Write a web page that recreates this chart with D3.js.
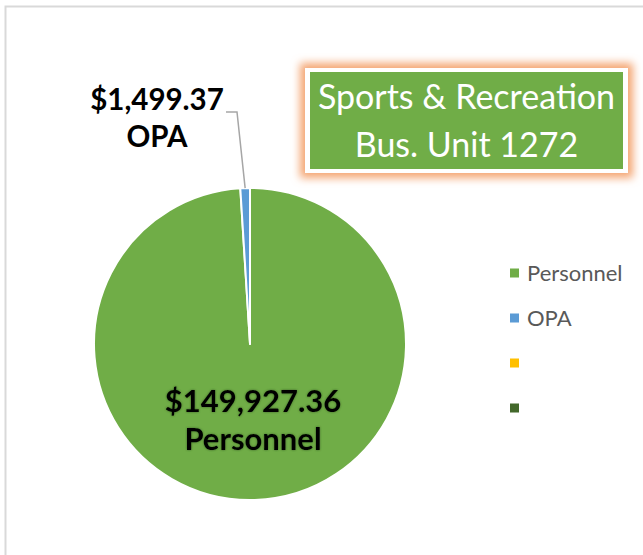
<!DOCTYPE html>
<html>
<head>
<meta charset="utf-8">
<script src="https://cdn.jsdelivr.net/npm/d3@7"></script>
<style>
  body { margin: 0; background: #fff; }
  svg { display: block; font-family: Lato, "Open Sans", sans-serif; }
</style>
</head>
<body>
<div id="chart"></div>
<script>
// Chart data
var categories = ["Personnel", "OPA", "", ""];
var amounts = [149927.36, 1499.37, 0, 0];
var sliceColors = ["#70AD47", "#5B9BD5", "#FFC000", "#43682B"];
var titleLines = ["Sports & Recreation", "Bus. Unit 1272"];

var svgWidth = 643;
var svgHeight = 555;

var svg = d3.select("#chart")
  .append("svg")
  .attr("width", svgWidth)
  .attr("height", svgHeight);

var defs = svg.append("defs");

// orange glow for the title box
var glow = defs.append("filter").attr("id", "glow")
  .attr("x", "-20%").attr("y", "-40%").attr("width", "140%").attr("height", "180%");
glow.append("feMorphology").attr("in", "SourceAlpha").attr("operator", "dilate").attr("radius", 5).attr("result", "fat");
glow.append("feGaussianBlur").attr("in", "fat").attr("stdDeviation", 4).attr("result", "blur");
glow.append("feFlood").attr("flood-color", "#F4A572").attr("flood-opacity", 1);
glow.append("feComposite").attr("in2", "blur").attr("operator", "in").attr("result", "glowColor");
var gm = glow.append("feMerge");
gm.append("feMergeNode").attr("in", "glowColor");
gm.append("feMergeNode").attr("in", "SourceGraphic");

// soft shadow for the inside label
var shade = defs.append("filter").attr("id", "shade");
shade.append("feGaussianBlur").attr("in", "SourceAlpha").attr("stdDeviation", 1.2).attr("result", "b");
shade.append("feFlood").attr("flood-color", "#2F4F1F").attr("flood-opacity", 0.8);
shade.append("feComposite").attr("in2", "b").attr("operator", "in").attr("result", "s");
var sm = shade.append("feMerge");
sm.append("feMergeNode").attr("in", "s");
sm.append("feMergeNode").attr("in", "SourceGraphic");

// chart area border
svg.append("rect")
  .attr("x", 5.5).attr("y", 6.5)
  .attr("width", 700).attr("height", 600)
  .attr("fill", "none")
  .attr("stroke", "#D9D9D9")
  .attr("stroke-width", 2);

// Pie
var cx = 250, cy = 344, radius = 156;
var data = categories.map((c, i) => ({ name: c, value: amounts[i], color: sliceColors[i] }));

var pie = d3.pie().sort(null).value(d => d.value);
var arc = d3.arc().innerRadius(0).outerRadius(radius);
var arcs = pie(data);

var pieGrp = svg.append("g").attr("transform", `translate(${cx}, ${cy})`);

pieGrp.selectAll("path")
  .data(arcs.filter(d => d.value > 0))
  .enter()
  .append("path")
  .attr("d", arc)
  .attr("fill", d => d.data.color)
  .attr("stroke", "#fff")
  .attr("stroke-width", 2)
  .attr("stroke-linejoin", "round");

var fmt = d3.format("$,.2f");

// OPA label with leader line
var opa = arcs[1];
var opaMid = (opa.startAngle + opa.endAngle) / 2;
var tipX = cx + Math.sin(opaMid) * radius;
var tipY = cy - Math.cos(opaMid) * radius;
svg.append("polyline")
  .attr("points", [[tipX, tipY], [237, 112], [226, 112]].join(" "))
  .attr("fill", "none")
  .attr("stroke", "#A6A6A6")
  .attr("stroke-width", 1.5);

var opaLbl = svg.append("text")
  .attr("text-anchor", "middle")
  .attr("font-weight", 700)
  .attr("font-size", "29.5px")
  .attr("fill", "#000");
opaLbl.append("tspan").attr("x", 157).attr("y", 110).text(fmt(opa.data.value));
opaLbl.append("tspan").attr("x", 157).attr("y", 147).text(opa.data.name);

// Personnel label inside the pie
var pers = arcs[0];
var persLbl = svg.append("text")
  .attr("text-anchor", "middle")
  .attr("font-weight", 700)
  .attr("font-size", "31px")
  .attr("fill", "#000")
  .attr("filter", "url(#shade)");
persLbl.append("tspan").attr("x", 253).attr("y", 412).text(fmt(pers.data.value));
persLbl.append("tspan").attr("x", 253).attr("y", 450).text(pers.data.name);

// Title box
var titleGrp = svg.append("g");
titleGrp.append("rect")
  .attr("x", 305).attr("y", 68)
  .attr("width", 323).attr("height", 105)
  .attr("fill", "#fff")
  .attr("filter", "url(#glow)");
titleGrp.append("rect")
  .attr("x", 310).attr("y", 72)
  .attr("width", 313).attr("height", 97)
  .attr("fill", "#70AD47");
titleGrp.selectAll("text")
  .data(titleLines)
  .enter()
  .append("text")
  .attr("x", 466.5)
  .attr("y", (d, i) => 109 + i * 48)
  .attr("text-anchor", "middle")
  .attr("font-size", "34px")
  .attr("fill", "#fff")
  .text(d => d);

// Legend
var legend = svg.append("g").attr("transform", "translate(510, 273)");
var legItems = legend.selectAll("g")
  .data(data)
  .enter()
  .append("g")
  .attr("transform", (d, i) => `translate(0, ${i * 45})`);
legItems.append("rect")
  .attr("x", 0).attr("y", -4.5)
  .attr("width", 9).attr("height", 9)
  .attr("fill", d => d.color);
legItems.append("text")
  .attr("x", 17)
  .attr("y", 0)
  .attr("dy", "0.35em")
  .attr("font-size", "22px")
  .attr("fill", "#595959")
  .text(d => d.name);
</script>
</body>
</html>
